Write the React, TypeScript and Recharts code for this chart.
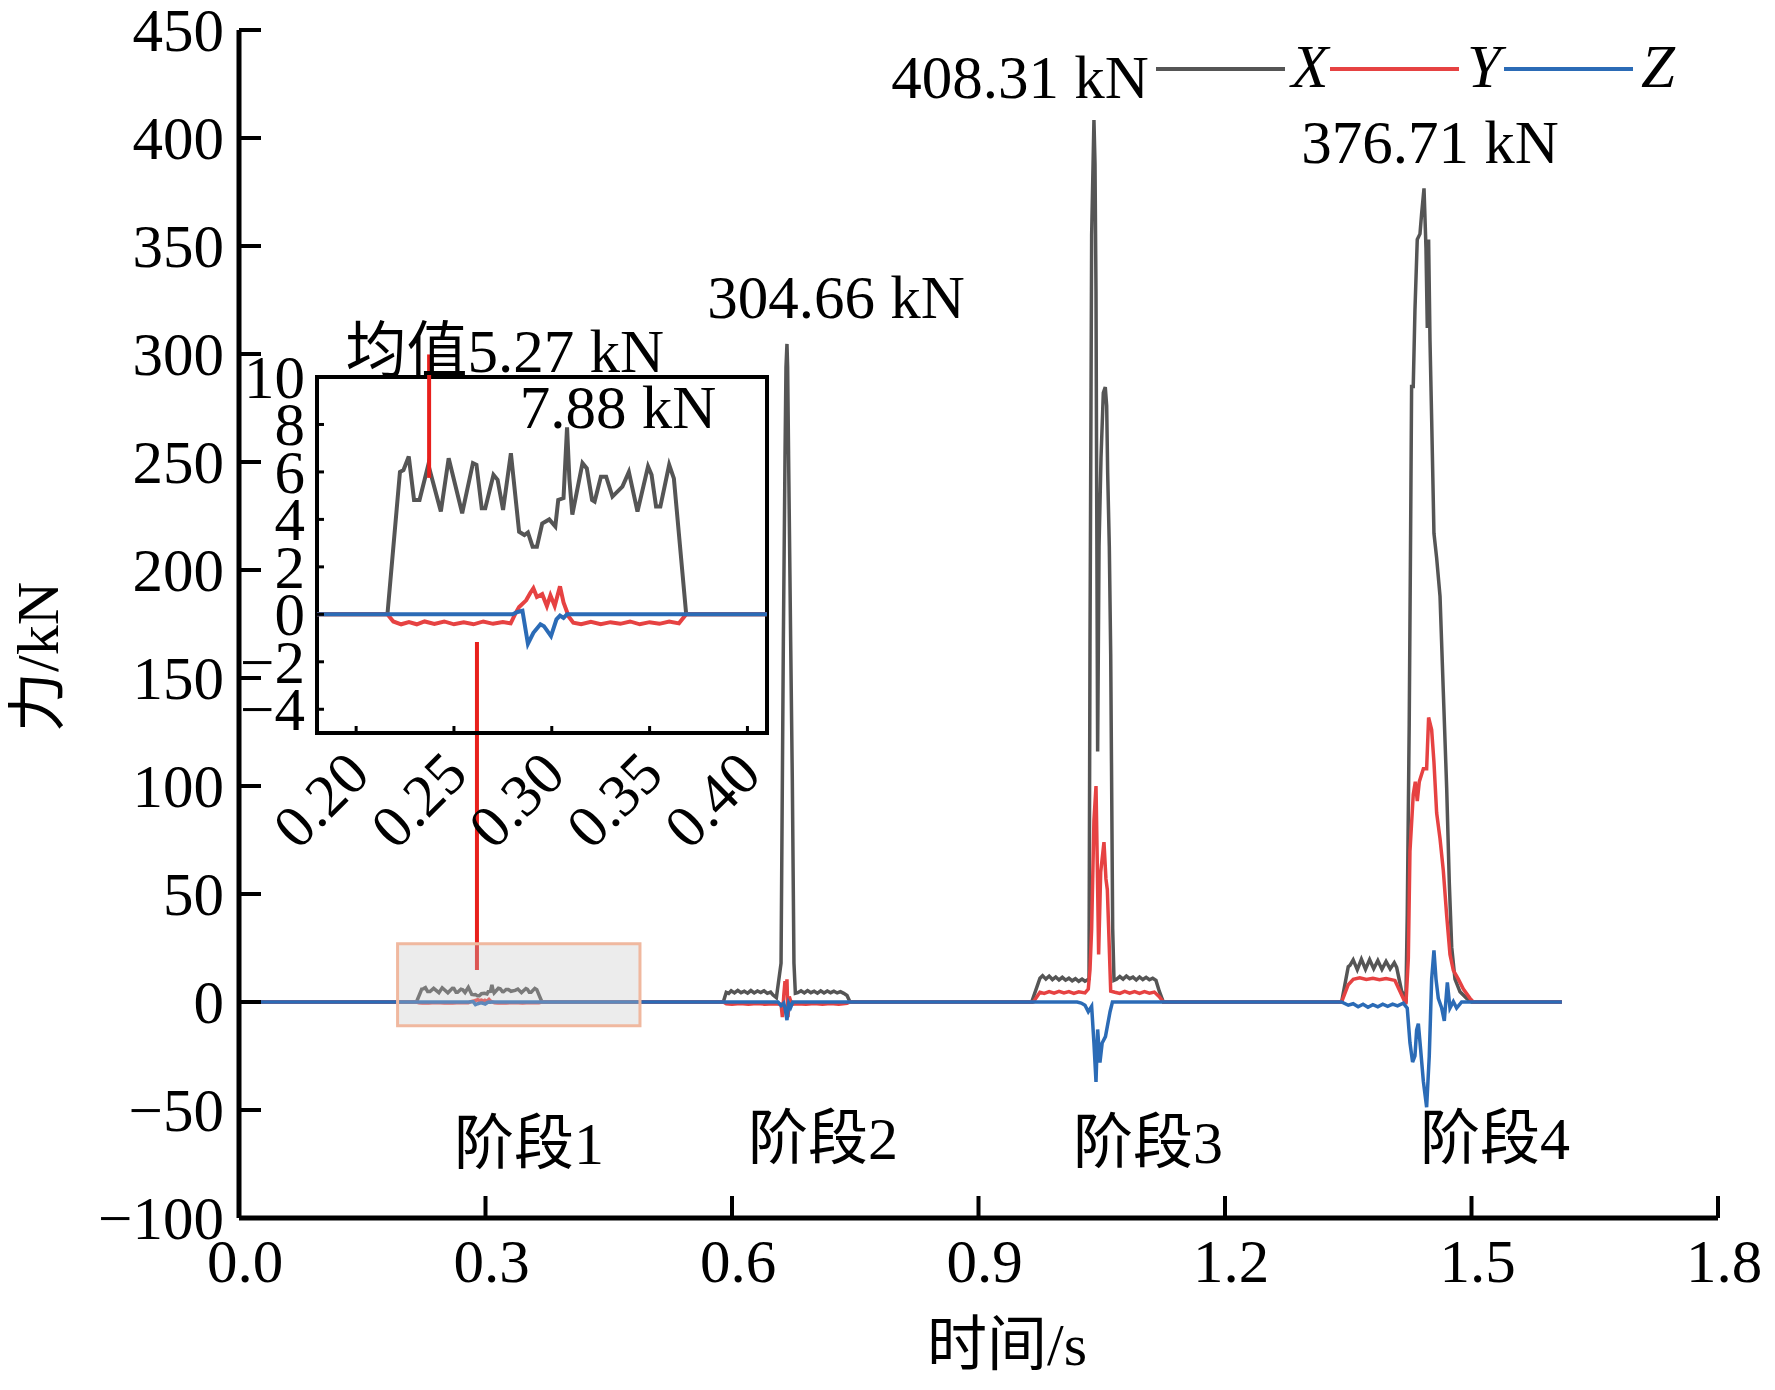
import React from 'react';
import {
  LineChart,
  Line,
  XAxis,
  YAxis,
  ReferenceArea,
  ReferenceLine,
  ReferenceDot,
  Legend,
  Customized,
} from 'recharts';

const FONT = "'Liberation Serif', 'Times New Roman', 'Noto Sans CJK SC', serif";
const C_X = '#555555';
const C_Y = '#e64242';
const C_Z = '#2b6bb6';
const C_LINK = '#e8201c';

type P = [number, number];

// ---------- data: time (s), force (kN) ----------
const xStage1: P[] = [
  [0.216, 0], [0.2224, 6.0], [0.2242, 6.08], [0.2269, 6.65], [0.2296, 4.82], [0.2324, 4.82],
  [0.2369, 6.3], [0.2433, 4.33], [0.2473, 6.58], [0.2542, 4.26], [0.2597, 6.37], [0.2615, 6.3],
  [0.2642, 4.47], [0.266, 4.47], [0.2702, 5.88], [0.2723, 5.67], [0.2751, 4.4], [0.2791, 6.79],
  [0.2833, 3.48], [0.286, 3.34], [0.2878, 3.45], [0.2902, 2.85], [0.2924, 2.85], [0.2951, 3.83],
  [0.2987, 4.0], [0.3018, 3.7], [0.3033, 4.82], [0.306, 4.9], [0.3078, 7.88], [0.309, 5.7],
  [0.3105, 4.2], [0.3157, 6.37], [0.3179, 6.15], [0.3206, 4.82], [0.3219, 4.75], [0.3251, 5.8],
  [0.3278, 5.8], [0.331, 4.96], [0.3361, 5.38], [0.3394, 6.0], [0.3438, 4.33], [0.3492, 6.23],
  [0.351, 5.88], [0.3533, 4.54], [0.3555, 4.54], [0.36, 6.3], [0.3624, 5.73], [0.3687, 0],
];
const yStage1: P[] = [
  [0.216, 0], [0.219, -0.3], [0.223, -0.42], [0.227, -0.33], [0.231, -0.42], [0.235, -0.3],
  [0.24, -0.4], [0.245, -0.3], [0.25, -0.42], [0.255, -0.34], [0.26, -0.42], [0.265, -0.3],
  [0.27, -0.4], [0.275, -0.32], [0.279, -0.38], [0.2815, 0.05], [0.2833, 0.31], [0.2869, 0.59],
  [0.289, 0.9], [0.2906, 1.1], [0.2924, 0.73], [0.2951, 0.85], [0.2975, 0.35], [0.2993, 0.8],
  [0.3015, 0.35], [0.3042, 1.18], [0.306, 0.5], [0.3087, -0.1], [0.311, -0.35], [0.315, -0.42],
  [0.32, -0.32], [0.325, -0.42], [0.33, -0.33], [0.335, -0.4], [0.34, -0.3], [0.345, -0.42],
  [0.35, -0.33], [0.355, -0.4], [0.36, -0.3], [0.365, -0.38], [0.3687, 0],
];
const zStage1: P[] = [
  [0.28, 0], [0.2825, 0.1], [0.285, 0.15], [0.2878, -1.24], [0.2906, -0.78], [0.2942, -0.42],
  [0.296, -0.5], [0.2996, -0.92], [0.3024, -0.21], [0.3042, -0.05], [0.306, -0.15], [0.3078, 0],
];

const xStage2: P[] = [
  [0.5894, 0], [0.593, 4.5], [0.596, 4.0], [0.599, 5.2], [0.603, 4.2], [0.607, 5.4], [0.611, 4.3],
  [0.615, 5.0], [0.619, 4.1], [0.623, 5.3], [0.627, 4.2], [0.631, 5.1], [0.635, 4.4], [0.639, 5.2],
  [0.643, 4.0], [0.647, 4.6], [0.65, 3.2], [0.654, 2.0], [0.6597, 18], [0.6613, 103], [0.6625, 167],
  [0.6645, 252], [0.6657, 294], [0.6669, 304.66], [0.6677, 294], [0.6689, 252], [0.6714, 167],
  [0.6734, 103], [0.6754, 18], [0.6771, 4], [0.68, 4.3], [0.684, 5.2], [0.688, 4.2], [0.692, 5.3],
  [0.696, 4.3], [0.7, 5.0], [0.704, 4.1], [0.708, 5.2], [0.712, 4.2], [0.716, 5.1], [0.72, 4.3],
  [0.724, 5.0], [0.728, 4.2], [0.732, 4.8], [0.736, 4.0], [0.74, 3.0], [0.7436, 0],
];
const yStage2: P[] = [
  [0.5894, 0], [0.593, -0.8], [0.6, -1.0], [0.61, -0.7], [0.62, -1.0], [0.63, -0.7], [0.64, -1.0],
  [0.65, -0.8], [0.6597, -1.0], [0.6613, -7], [0.663, 3], [0.6645, 9.7], [0.6657, 4], [0.6669, 10.5],
  [0.6681, -7], [0.6697, 2.5], [0.6714, 0.5], [0.674, -1.0], [0.68, -0.8], [0.69, -1.0], [0.7, -0.7],
  [0.71, -1.0], [0.72, -0.7], [0.73, -1.0], [0.74, -0.6], [0.7436, 0],
];
const zStage2: P[] = [
  [0.656, 0], [0.6597, -1.7], [0.663, -0.5], [0.6645, -2.8], [0.6669, -8.4], [0.669, -0.6],
  [0.6714, -2.5], [0.674, 0],
];

const xStage3: P[] = [
  [0.9647, 0], [0.9748, 11.0], [0.978, 12.2], [0.982, 10.6], [0.986, 12.0], [0.99, 10.4],
  [0.994, 11.6], [0.998, 10.2], [1.002, 11.4], [1.006, 10.1], [1.01, 11.0], [1.014, 9.8],
  [1.018, 10.8], [1.022, 9.6], [1.026, 10.6], [1.0296, 9.6], [1.0345, 10.7], [1.0357, 166],
  [1.0369, 276], [1.0377, 355], [1.0405, 408.31], [1.0418, 388], [1.043, 329], [1.0438, 240],
  [1.045, 116], [1.0467, 211], [1.0491, 252], [1.0519, 282], [1.0543, 284.7], [1.056, 276],
  [1.0572, 245], [1.0592, 211], [1.0609, 161], [1.0633, 34], [1.0649, 10], [1.068, 10.5],
  [1.072, 11.8], [1.076, 10.6], [1.08, 12.0], [1.084, 10.8], [1.088, 11.5], [1.092, 10.2],
  [1.096, 11.6], [1.1, 10.4], [1.104, 11.4], [1.108, 10.3], [1.112, 11.0], [1.116, 10.0],
  [1.12, 5.0], [1.125, 0],
];
const yStage3: P[] = [
  [0.9667, 0], [0.9748, 4.5], [0.98, 4.0], [0.986, 4.8], [0.992, 4.1], [0.998, 4.9], [1.004, 4.2],
  [1.01, 4.8], [1.016, 4.0], [1.022, 4.7], [1.0296, 4.2], [1.0336, 6], [1.0357, 15], [1.0377, 34],
  [1.0405, 84], [1.043, 100], [1.0446, 63], [1.0462, 22], [1.0487, 60], [1.0527, 74], [1.0551, 57],
  [1.0568, 52], [1.0584, 34], [1.0609, 5], [1.066, 4.5], [1.072, 4.0], [1.078, 4.9], [1.084, 4.1],
  [1.09, 4.8], [1.096, 4.0], [1.102, 4.8], [1.108, 4.1], [1.114, 4.6], [1.12, 2.5], [1.125, 0],
];
const zStage3: P[] = [
  [1.02, 0], [1.025, -0.5], [1.0296, -1.5], [1.0336, -4.5], [1.0377, -2], [1.0405, -19],
  [1.043, -37], [1.045, -12.7], [1.0478, -28], [1.0505, -19], [1.0545, -16], [1.0601, -4.5],
  [1.063, 0],
];

const xStage4: P[] = [
  [1.3419, 0], [1.35, 16.3], [1.3521, 17], [1.356, 19.5], [1.361, 15], [1.366, 19.8], [1.371, 15.2],
  [1.376, 19.6], [1.381, 15.4], [1.386, 19.2], [1.391, 15.1], [1.396, 18.8], [1.401, 15.3],
  [1.406, 18.2], [1.4089, 16], [1.415, 5], [1.4202, 2], [1.4218, 40], [1.4242, 128.7], [1.4259, 217],
  [1.4271, 285], [1.4291, 285], [1.4312, 320.6], [1.434, 353], [1.4373, 355.6], [1.4393, 365],
  [1.4422, 376.71], [1.4446, 349], [1.4462, 312], [1.4478, 353], [1.4495, 306], [1.4515, 270],
  [1.4543, 217], [1.4576, 205.5], [1.4617, 187.8], [1.4657, 143.5], [1.4698, 99], [1.473, 55],
  [1.4759, 25.4], [1.4799, 10.6], [1.486, 4.7], [1.4941, 1.7], [1.5002, 0],
];
const yStage4: P[] = [
  [1.3419, 0], [1.35, 8], [1.3561, 10.5], [1.364, 11.2], [1.372, 10.4], [1.38, 11.0], [1.388, 10.3],
  [1.396, 10.9], [1.4068, 10], [1.4129, 5], [1.4202, -1], [1.4231, 20], [1.4251, 69.7], [1.4291, 96],
  [1.4316, 102], [1.434, 93], [1.4365, 102], [1.4414, 108], [1.4454, 108], [1.4478, 131.7],
  [1.4515, 126], [1.4543, 111], [1.4576, 87.5], [1.4617, 75.6], [1.4657, 60.8], [1.4698, 40],
  [1.4738, 22], [1.4779, 14.7], [1.484, 10.6], [1.4901, 6], [1.4982, 1.7], [1.5022, 0],
];
const zStage4: P[] = [
  [1.3419, 0], [1.35, -1.5], [1.356, -0.8], [1.362, -2.2], [1.368, -1], [1.374, -2.4], [1.38, -1.2],
  [1.386, -2.2], [1.392, -1.0], [1.398, -2.0], [1.404, -1.0], [1.41, -1.8], [1.417, -0.5],
  [1.4218, -2.8], [1.4251, -18.9], [1.4283, -27.8], [1.4312, -24.9], [1.4332, -13], [1.4353, -10],
  [1.4381, -22], [1.4414, -36.7], [1.4454, -48.7], [1.4486, -25], [1.4515, 10.6], [1.4543, 23.9],
  [1.4568, 10.6], [1.4596, 1.7], [1.4637, -2.8], [1.4669, -8.7], [1.4706, 9.1], [1.4738, -2.8],
  [1.4779, 0.2], [1.4819, -2.8], [1.488, 0],
];

const T_START: P = [0, 0];
const T_END: P = [1.61, 0];

const yTicks = [-100, -50, 0, 50, 100, 150, 200, 250, 300, 350, 400, 450];
const xTicks = [0, 0.3, 0.6, 0.9, 1.2, 1.5, 1.8];
const insetYTicks = [-4, -2, 0, 2, 4, 6, 8, 10];
const insetXTicks = [0.2, 0.25, 0.3, 0.35, 0.4];

// ---------- derived tables ----------
const toRows = (pts: P[]) => pts.map(([t, v]) => ({ t, v }));
const full = (...stages: P[][]) => toRows([T_START, ...stages.flat(), T_END]);
const dataX = full(xStage1, xStage2, xStage3, xStage4);
const dataY = full(yStage1, yStage2, yStage3, yStage4);
const dataZ = full(zStage1, zStage2, zStage3, zStage4);
const insetRows = (stage: P[]) => toRows([[0.18, 0], ...stage, [0.41, 0]]);
const insetX = insetRows(xStage1);
const insetY = insetRows(yStage1);
const insetZ = insetRows(zStage1);

const signed = (v: number) => (v < 0 ? '\u2212' + Math.abs(v) : String(v));

// ---------- custom ticks ----------
const MainYTick = (props: any) => {
  const { x, y, payload } = props;
  return (
    <g>
      <line x1={x} y1={y} x2={x + 22} y2={y} stroke="#000" strokeWidth={4} />
      <text x={x - 15} y={y} dy="0.34em" textAnchor="end" fontSize={61} fontFamily={FONT} fill="#000">
        {signed(payload.value)}
      </text>
    </g>
  );
};
const MainXTick = (props: any) => {
  const { x, y, payload } = props;
  return (
    <g>
      <line x1={x} y1={y} x2={x} y2={y - 22} stroke="#000" strokeWidth={4} />
      <text x={x + 6} y={y + 64} textAnchor="middle" fontSize={61} fontFamily={FONT} fill="#000">
        {Number(payload.value).toFixed(1)}
      </text>
    </g>
  );
};
const InsetYTick = (props: any) => {
  const { x, y, payload } = props;
  return (
    <g>
      <line x1={x} y1={y} x2={x + 7} y2={y} stroke="#000" strokeWidth={3} />
      <text x={x - 12} y={y} dy="0.34em" textAnchor="end" fontSize={61} fontFamily={FONT} fill="#000">
        {signed(payload.value)}
      </text>
    </g>
  );
};
const InsetXTick = (props: any) => {
  const { x, y, payload } = props;
  const ax = x + 16;
  const ay = y + 44;
  return (
    <g>
      <line x1={x} y1={y} x2={x} y2={y - 7} stroke="#000" strokeWidth={3} />
      <text
        x={ax}
        y={ay}
        textAnchor="end"
        fontSize={60}
        fontFamily={FONT}
        fill="#000"
        transform={`rotate(-45 ${ax} ${ay})`}
      >
        {Number(payload.value).toFixed(2)}
      </text>
    </g>
  );
};

const textAt = (label: string, size = 61) => (props: any) => (
  <text x={props.cx} y={props.cy} textAnchor="middle" fontSize={size} fontFamily={FONT} fill="#000">
    {label}
  </text>
);

const LegendContent = (props: any) => {
  const payload = props.payload || [];
  return (
    <svg width={560} height={100} style={{ overflow: 'visible' }}>
      {payload.map((e: any, i: number) => {
        const x0 = 8 + i * 174;
        return (
          <g key={i}>
            <line x1={x0} y1={41} x2={x0 + 129} y2={41} stroke={e.color} strokeWidth={4} />
            <text
              x={x0 + 154}
              y={59}
              textAnchor="middle"
              fontSize={61}
              fontStyle="italic"
              fontFamily={FONT}
              fill="#000"
            >
              {e.value}
            </text>
          </g>
        );
      })}
    </svg>
  );
};

const AxisTitles = () => (
  <g>
    <text
      x={30}
      y={649}
      textAnchor="middle"
      dominantBaseline="central"
      fontSize={60}
      fontFamily={FONT}
      fill="#000"
      transform="rotate(-90 30 649)"
    >
      力/kN
    </text>
    <text x={999} y={1357} textAnchor="middle" fontSize={60} fontFamily={FONT} fill="#000">
      时间/s
    </text>
  </g>
);

export default function App() {
  return (
    <div style={{ position: 'relative', width: 1759, height: 1370, fontFamily: FONT, background: '#fff' }}>
      <LineChart
        width={1759}
        height={1370}
        margin={{ top: 22, right: 49, bottom: 50, left: 0 }}
        style={{ overflow: 'visible' }}
      >
        <XAxis
          dataKey="t"
          type="number"
          domain={[0, 1.8]}
          ticks={xTicks}
          interval={0}
          height={110}
          tickSize={0}
          tickMargin={0}
          tickLine={false}
          axisLine={{ stroke: '#000', strokeWidth: 5 }}
          tick={<MainXTick />}
        />
        <YAxis
          type="number"
          domain={[-100, 450]}
          ticks={yTicks}
          interval={0}
          width={231}
          tickSize={0}
          tickMargin={0}
          tickLine={false}
          axisLine={{ stroke: '#000', strokeWidth: 5 }}
          tick={<MainYTick />}
        />
        <Line data={dataX} dataKey="v" name="X" stroke={C_X} strokeWidth={3.5} dot={false} activeDot={false} isAnimationActive={false} />
        <Line data={dataY} dataKey="v" name="Y" stroke={C_Y} strokeWidth={3.5} dot={false} activeDot={false} isAnimationActive={false} />
        <Line data={dataZ} dataKey="v" name="Z" stroke={C_Z} strokeWidth={3.5} dot={false} activeDot={false} isAnimationActive={false} />
        <ReferenceArea
          x1={0.193}
          x2={0.488}
          y1={-11}
          y2={27}
          fill="#c4c4c4"
          fillOpacity={0.33}
          stroke="#f0b89f"
          strokeWidth={3}
          zIndex={1000}
        />
        <ReferenceLine
          segment={[{ x: 0.2896, y: 166.7 }, { x: 0.2896, y: 14.8 }]}
          stroke={C_LINK}
          strokeWidth={4}
          ifOverflow="visible"
        />
        <ReferenceDot x={0.7266} y={316.7} r={0} ifOverflow="visible" shape={textAt('304.66 kN')} />
        <ReferenceDot x={0.9505} y={418.5} r={0} ifOverflow="visible" shape={textAt('408.31 kN')} />
        <ReferenceDot x={1.4494} y={388.4} r={0} ifOverflow="visible" shape={textAt('376.71 kN')} />
        <ReferenceDot x={0.3529} y={-75} r={0} ifOverflow="visible" shape={textAt('阶段1', 60)} />
        <ReferenceDot x={0.7107} y={-72.7} r={0} ifOverflow="visible" shape={textAt('阶段2', 60)} />
        <ReferenceDot x={1.1062} y={-74.5} r={0} ifOverflow="visible" shape={textAt('阶段3', 60)} />
        <ReferenceDot x={1.5285} y={-72.7} r={0} ifOverflow="visible" shape={textAt('阶段4', 60)} />
        <Legend
          layout="vertical"
          align="center"
          verticalAlign="middle"
          content={<LegendContent />}
          wrapperStyle={{ position: 'absolute', left: 1140, top: 20, width: 560, height: 100 }}
        />
        <Customized component={<AxisTitles />} />
      </LineChart>

      <div style={{ position: 'absolute', left: 202, top: 292, width: 580, height: 560 }}>
        <LineChart
          width={580}
          height={560}
          margin={{ top: 77, right: 23, bottom: 27, left: 0 }}
          style={{ overflow: 'visible' }}
        >
          <XAxis
            dataKey="t"
            type="number"
            domain={[0.18, 0.41]}
            ticks={insetXTicks}
            interval={0}
            height={100}
            tickSize={0}
            tickMargin={0}
            tickLine={false}
            axisLine={false}
            tick={<InsetXTick />}
          />
          <YAxis
            type="number"
            domain={[-5, 10]}
            ticks={insetYTicks}
            interval={0}
            width={107}
            tickSize={0}
            tickMargin={0}
            tickLine={false}
            axisLine={false}
            tick={<InsetYTick />}
          />
          <Line data={insetX} dataKey="v" name="X" stroke={C_X} strokeWidth={4} dot={false} activeDot={false} isAnimationActive={false} />
          <Line data={insetY} dataKey="v" name="Y" stroke={C_Y} strokeWidth={4} dot={false} activeDot={false} isAnimationActive={false} />
          <Line data={insetZ} dataKey="v" name="Z" stroke={C_Z} strokeWidth={4} dot={false} activeDot={false} isAnimationActive={false} />
          <ReferenceArea x1={0.18} x2={0.41} y1={-5} y2={10} fill="none" stroke="#000" strokeWidth={4} ifOverflow="visible" />
          <ReferenceLine
            segment={[{ x: 0.2373, y: 10.95 }, { x: 0.2373, y: 5.75 }]}
            stroke={C_LINK}
            strokeWidth={4}
            ifOverflow="visible"
          />
          <ReferenceDot x={0.276} y={10.23} r={0} ifOverflow="visible" shape={textAt('均值5.27 kN')} />
          <ReferenceDot x={0.3338} y={7.86} r={0} ifOverflow="visible" shape={textAt('7.88 kN')} />
        </LineChart>
      </div>
    </div>
  );
}
